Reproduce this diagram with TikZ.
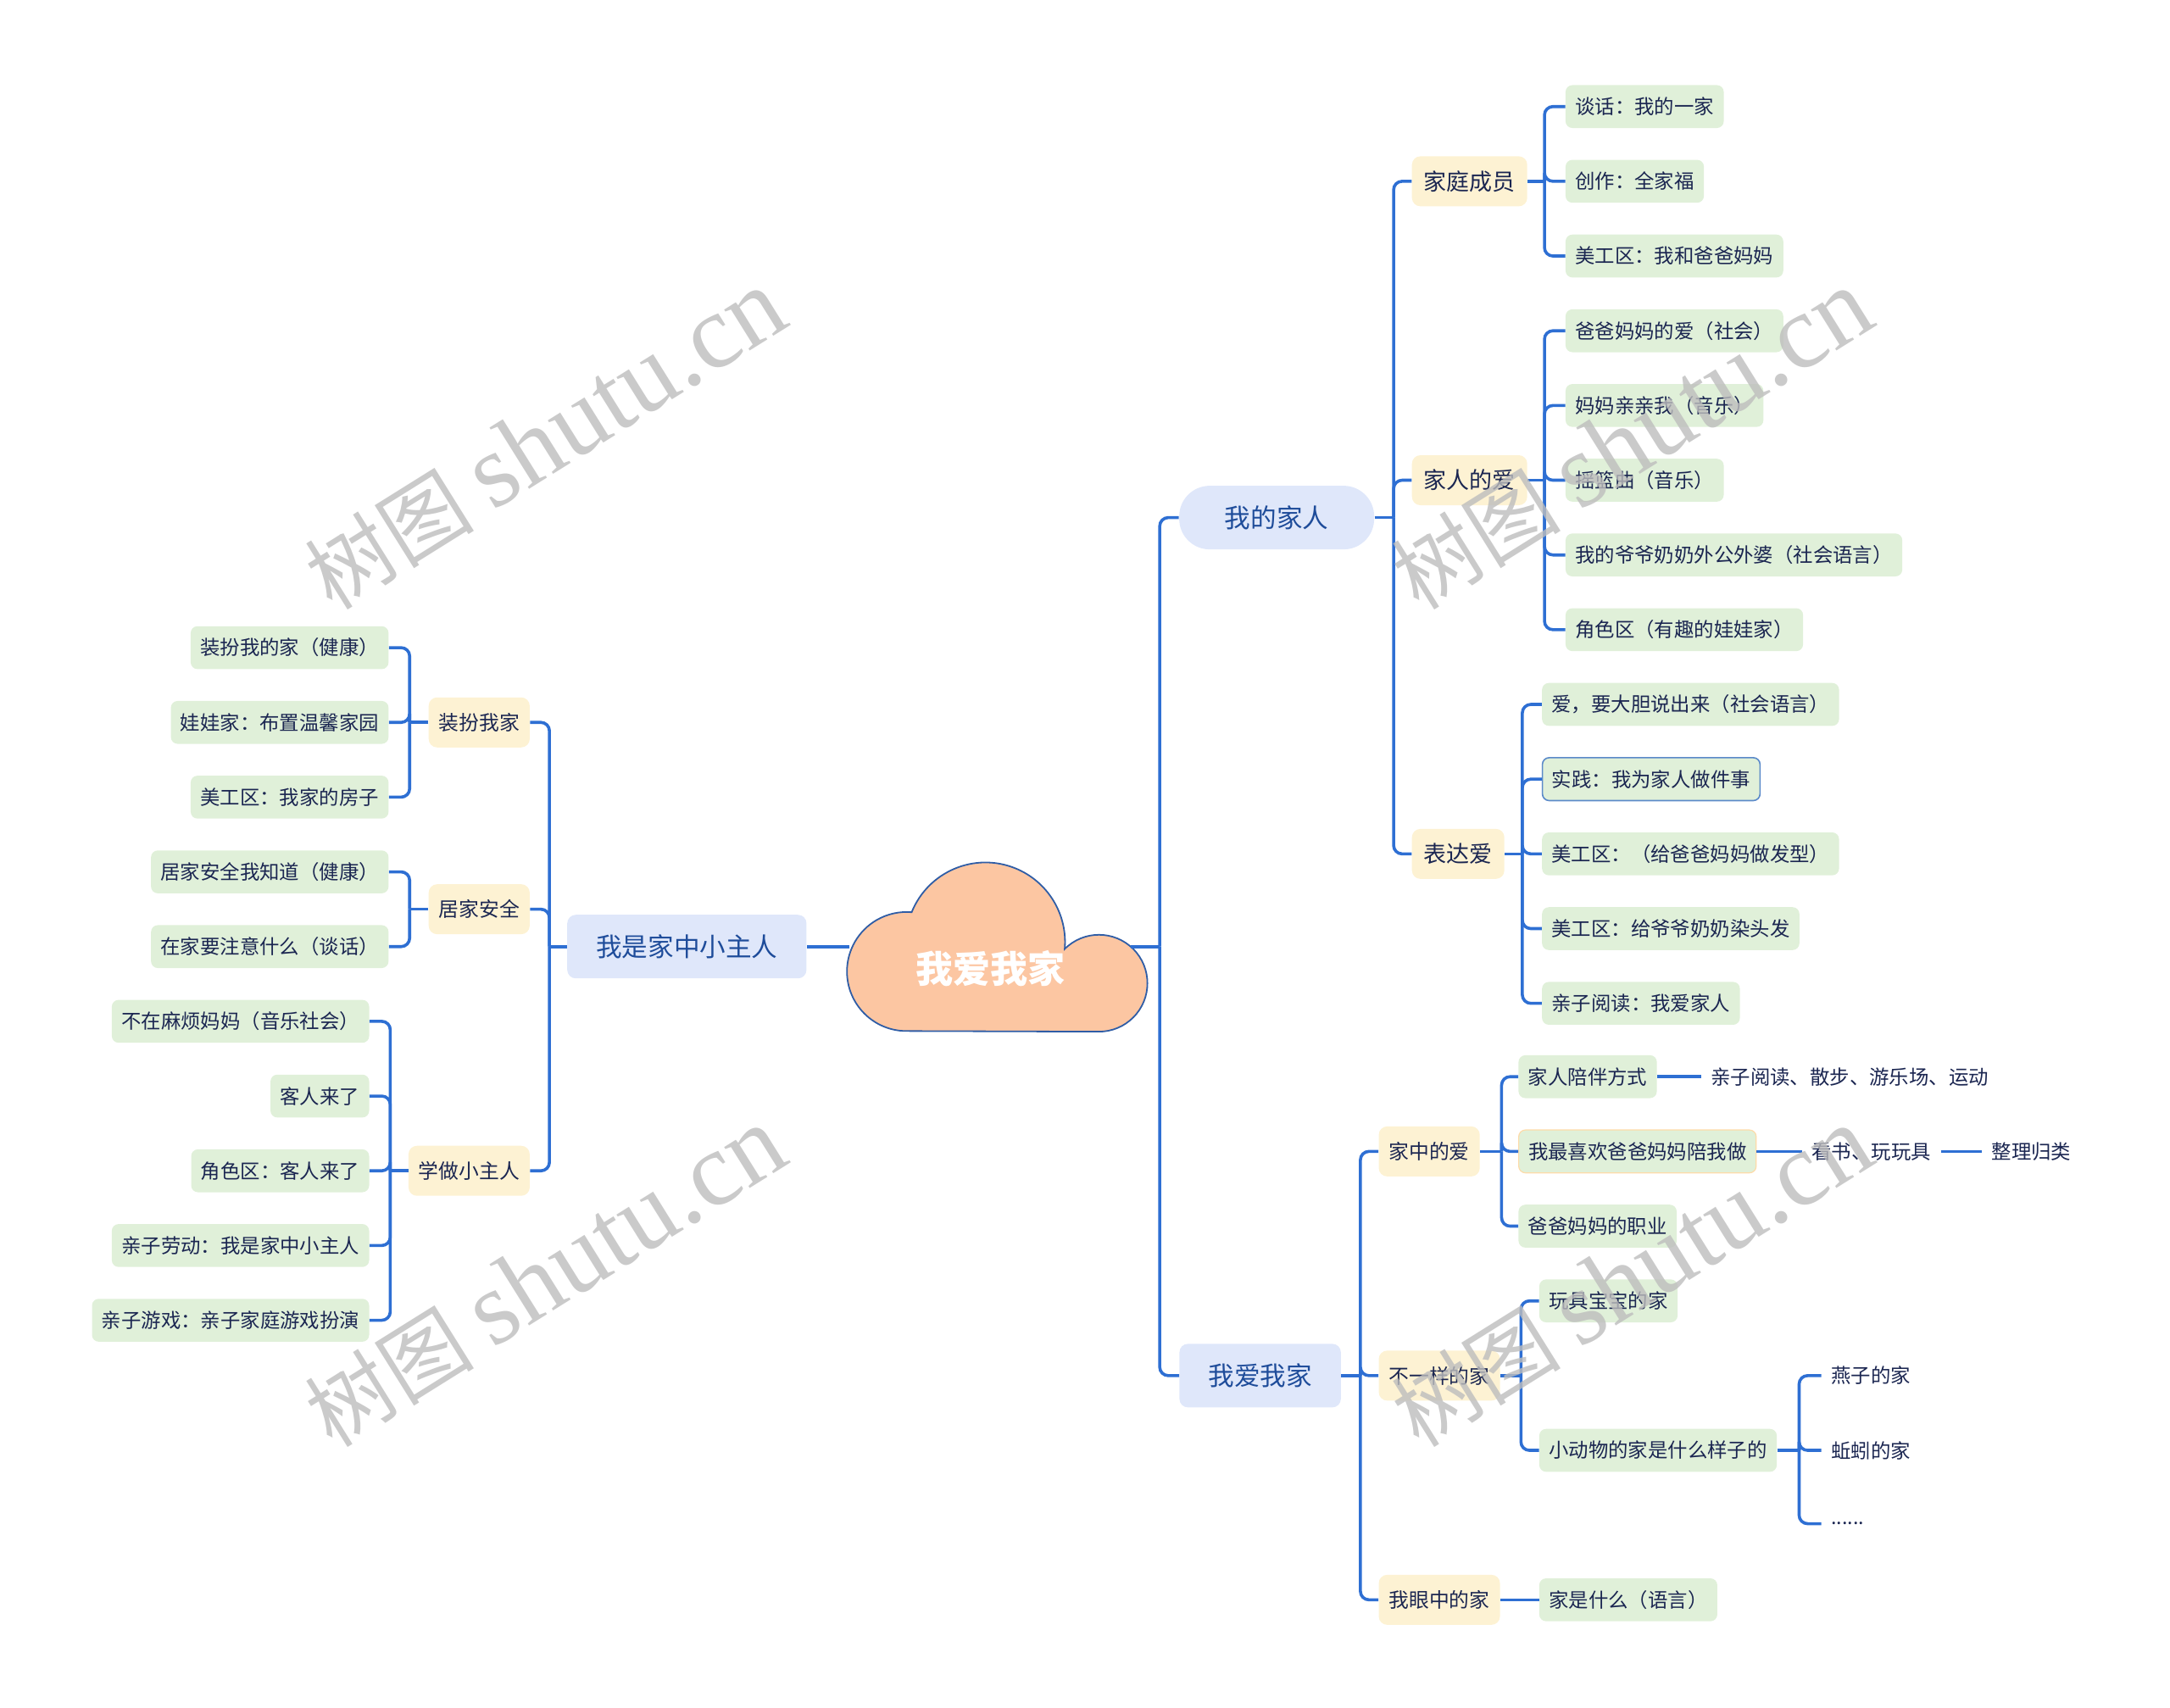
\documentclass[tikz,border=0pt]{standalone}
\usepackage{fontspec}
\setmainfont{Noto Sans CJK SC}
\newfontfamily\wmserif{Liberation Serif}
\definecolor{linkblue}{HTML}{2E6FD3}
\definecolor{topicfill}{HTML}{DFE7FA}
\definecolor{topictext}{HTML}{1E4C9A}
\definecolor{subfill}{HTML}{FDF2D3}
\definecolor{leaffill}{HTML}{E0F0D9}
\definecolor{leaftext}{HTML}{1B2651}
\definecolor{cloudfill}{HTML}{FCC6A2}
\definecolor{cloudline}{HTML}{2F5DA6}
\definecolor{framecol}{HTML}{5B8AC9}
\definecolor{wmgray}{HTML}{BDBDBD}

\begin{document}
\begin{tikzpicture}[x=0.8163pt, y=0.8163pt,
    link/.style={draw=linkblue, line width=1.8pt, rounded corners=5pt},
    topic/.style={fill=topicfill, text=topictext, font=\fontsize{15.3}{18}\selectfont,
      minimum height=37.5pt, inner xsep=17pt, inner ysep=0pt, rounded corners=5pt},
    subtopic/.style={fill=subfill, text=leaftext, font=\fontsize{11.9}{14}\selectfont,
      minimum height=29.5pt, inner xsep=6pt, inner ysep=0pt, rounded corners=5pt},
    bigsub/.style={subtopic, font=\fontsize{13.5}{16}\selectfont, inner xsep=7pt},
    leaf/.style={fill=leaffill, text=leaftext, font=\fontsize{11.7}{14}\selectfont,
      minimum height=25.3pt, inner xsep=5.7pt, inner ysep=0pt, rounded corners=4pt},
    plain/.style={text=leaftext, font=\fontsize{11.7}{14}\selectfont, inner xsep=5.7pt, inner ysep=2pt},
    wmtext/.style={rotate=32, text=wmgray, opacity=0.8, font=\fontsize{50}{60}\selectfont, inner sep=0pt}]
  \useasboundingbox (0,0) rectangle (1568,-1234);

  % cloud
  \draw[fill=cloudfill, draw=cloudline, line width=0.9pt]
    (655,-745) arc[start angle=270, end angle=85, radius=43]
    arc[start angle=158, end angle=-5, radius=57.5]
    arc[start angle=135, end angle=-90, radius=35] -- cycle;
  \node[font=\bfseries\fontsize{22}{26}\selectfont, text=white] (root) at (716,-700) {我爱我家};
  \coordinate (rootR) at (817,-684);
  \coordinate (rootL) at (614,-684);

  % main topics
  \node[topic, minimum width=115pt, rounded corners=18pt] (mine) at (922.5,-374) {我的家人};
  \node[topic, anchor=west] (lovehome) at (852,-994) {我爱我家};
  \node[topic, anchor=east] (owner) at (583,-684) {我是家中小主人};

  % 我的家人
  \node[bigsub, anchor=west] (members) at (1020,-131) {家庭成员};
  \node[bigsub, anchor=west] (famlove) at (1020,-347) {家人的爱};
  \node[bigsub, anchor=west] (express) at (1020,-617) {表达爱};
  \node[leaf, anchor=west] (m1) at (1131,-77) {谈话：我的一家};
  \node[leaf, anchor=west] (m2) at (1131,-131) {创作：全家福};
  \node[leaf, anchor=west] (m3) at (1131,-185) {美工区：我和爸爸妈妈};
  \node[leaf, anchor=west] (f1) at (1131,-239) {爸爸妈妈的爱（社会）};
  \node[leaf, anchor=west] (f2) at (1131,-293) {妈妈亲亲我（音乐）};
  \node[leaf, anchor=west] (f3) at (1131,-347) {摇篮曲（音乐）};
  \node[leaf, anchor=west] (f4) at (1131,-401) {我的爷爷奶奶外公外婆（社会语言）};
  \node[leaf, anchor=west] (f5) at (1131,-455) {角色区（有趣的娃娃家）};
  \node[leaf, anchor=west] (e1) at (1114,-509) {爱，要大胆说出来（社会语言）};
  \node[leaf, anchor=west, draw=framecol, line width=0.8pt] (e2) at (1114,-563) {实践：我为家人做件事};
  \node[leaf, anchor=west] (e3) at (1114,-617) {美工区：（给爸爸妈妈做发型）};
  \node[leaf, anchor=west] (e4) at (1114,-671) {美工区：给爷爷奶奶染头发};
  \node[leaf, anchor=west] (e5) at (1114,-725) {亲子阅读：我爱家人};

  % 我爱我家
  \node[subtopic, anchor=west] (homelove) at (996,-832) {家中的爱};
  \node[subtopic, anchor=west] (diff) at (996,-994) {不一样的家};
  \node[subtopic, anchor=west] (myeyes) at (996,-1156) {我眼中的家};
  \node[leaf, anchor=west] (h1) at (1097,-778) {家人陪伴方式};
  \node[plain, anchor=west] (h1a) at (1229,-778) {亲子阅读、散步、游乐场、运动};
  \node[leaf, anchor=west, draw=subfill!80!orange, line width=0.6pt] (h2) at (1097,-832) {我最喜欢爸爸妈妈陪我做};
  \node[plain, anchor=west] (h2a) at (1302,-832) {看书、玩玩具};
  \node[plain, anchor=west] (h2b) at (1432,-832) {整理归类};
  \node[leaf, anchor=west] (h3) at (1097,-886) {爸爸妈妈的职业};
  \node[leaf, anchor=west] (d1) at (1112,-940) {玩具宝宝的家};
  \node[leaf, anchor=west] (d2) at (1112,-1048) {小动物的家是什么样子的};
  \node[plain, anchor=west] (d2a) at (1316,-994) {燕子的家};
  \node[plain, anchor=west] (d2b) at (1316,-1048) {蚯蚓的家};
  \node[plain, anchor=west] (d2c) at (1316,-1101) {......};
  \node[leaf, anchor=west] (y1) at (1112,-1156) {家是什么（语言）};

  % 我是家中小主人
  \node[subtopic, anchor=east] (dress) at (383,-522) {装扮我家};
  \node[subtopic, anchor=east] (safe) at (383,-657) {居家安全};
  \node[subtopic, anchor=east] (host) at (383,-846) {学做小主人};
  \node[leaf, anchor=east] (s1) at (281,-468) {装扮我的家（健康）};
  \node[leaf, anchor=east] (s2) at (281,-522) {娃娃家：布置温馨家园};
  \node[leaf, anchor=east] (s3) at (281,-576) {美工区：我家的房子};
  \node[leaf, anchor=east] (a1) at (281,-630) {居家安全我知道（健康）};
  \node[leaf, anchor=east] (a2) at (281,-684) {在家要注意什么（谈话）};
  \node[leaf, anchor=east] (t1) at (267,-738) {不在麻烦妈妈（音乐社会）};
  \node[leaf, anchor=east] (t2) at (267,-792) {客人来了};
  \node[leaf, anchor=east] (t3) at (267,-846) {角色区：客人来了};
  \node[leaf, anchor=east] (t4) at (267,-900) {亲子劳动：我是家中小主人};
  \node[leaf, anchor=east] (t5) at (267,-954) {亲子游戏：亲子家庭游戏扮演};

  % connectors right
  \coordinate (jr) at (838,-684);
  \draw[link] (rootR) -- (jr);
  \foreach \c in {mine,lovehome} \draw[link] (jr) |- (\c.west);
  \coordinate (jmine) at (1007,-374);
  \draw[link] (mine.east) -- (jmine);
  \foreach \c in {members,famlove,express} \draw[link] (jmine) |- (\c.west);
  \coordinate (jmembers) at (1116,-131);
  \draw[link] (members.east) -- (jmembers);
  \foreach \c in {m1,m2,m3} \draw[link] (jmembers) |- (\c.west);
  \coordinate (jfamlove) at (1116,-347);
  \draw[link] (famlove.east) -- (jfamlove);
  \foreach \c in {f1,f2,f3,f4,f5} \draw[link] (jfamlove) |- (\c.west);
  \coordinate (jexpress) at (1100,-617);
  \draw[link] (express.east) -- (jexpress);
  \foreach \c in {e1,e2,e3,e4,e5} \draw[link] (jexpress) |- (\c.west);
  \coordinate (jlove) at (983,-994);
  \draw[link] (lovehome.east) -- (jlove);
  \foreach \c in {homelove,diff,myeyes} \draw[link] (jlove) |- (\c.west);
  \coordinate (jhome) at (1085,-832);
  \draw[link] (homelove.east) -- (jhome);
  \foreach \c in {h1,h2,h3} \draw[link] (jhome) |- (\c.west);
  \draw[link] (h1.east) -- (h1a.west);
  \draw[link] (h2.east) -- (h2a.west);
  \draw[link] (h2a.east) -- (h2b.west);
  \coordinate (jdiff) at (1099,-994);
  \draw[link] (diff.east) -- (jdiff);
  \foreach \c in {d1,d2} \draw[link] (jdiff) |- (\c.west);
  \coordinate (jd2) at (1300,-1048);
  \draw[link] (d2.east) -- (jd2);
  \foreach \c in {d2a,d2b,d2c} \draw[link] (jd2) |- (\c.west);
  \draw[link] (myeyes.east) -- (y1.west);

  % connectors left
  \draw[link] (rootL) -- (owner.east);
  \coordinate (jowner) at (397,-684);
  \draw[link] (owner.west) -- (jowner);
  \foreach \c in {dress,safe,host} \draw[link] (jowner) |- (\c.east);
  \coordinate (jdress) at (296,-522);
  \draw[link] (dress.west) -- (jdress);
  \foreach \c in {s1,s2,s3} \draw[link] (jdress) |- (\c.east);
  \coordinate (jsafe) at (296,-657);
  \draw[link] (safe.west) -- (jsafe);
  \foreach \c in {a1,a2} \draw[link] (jsafe) |- (\c.east);
  \coordinate (jhost) at (282,-846);
  \draw[link] (host.west) -- (jhost);
  \foreach \c in {t1,t2,t3,t4,t5} \draw[link] (jhost) |- (\c.east);

  % watermark
  \foreach \x/\y in {394/-318, 1179/-318, 394/-923, 1179/-923}
    \node[wmtext] at (\x,\y) {树图 {\wmserif\fontsize{62}{70}\selectfont shutu.cn}};
\end{tikzpicture}
\end{document}
